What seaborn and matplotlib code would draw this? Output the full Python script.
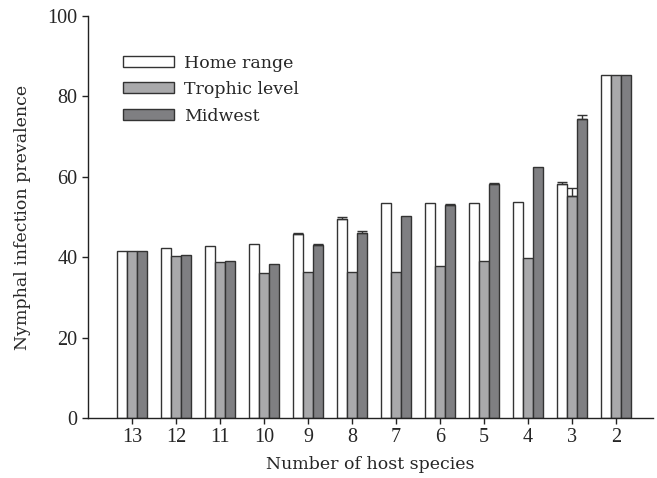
import matplotlib
matplotlib.use("Agg")
from matplotlib import pyplot as plt
import numpy as np
import pandas as pd
import seaborn as sns

# values
hosts = ["13", "12", "11", "10", "9", "8", "7", "6", "5", "4", "3", "2"]
home_range = [41.5, 42.2, 42.8, 43.3, 45.7, 49.5, 53.5, 53.5, 53.6, 53.8, 58.2, 85.3]
trophic_level = [41.5, 40.3, 38.7, 36.0, 36.2, 36.3, 36.4, 37.7, 39.1, 39.9, 55.3, 85.3]
midwest = [41.5, 40.6, 39.1, 38.4, 43.0, 46.0, 50.2, 53.0, 58.1, 62.4, 74.3, 85.3]
home_err = [0, 0, 0, 0, 0.4, 0.4, 0, 0, 0, 0, 0.4, 0]
trophic_err = [0, 0, 0, 0, 0, 0, 0, 0, 0, 0, 1.9, 0]
midwest_err = [0, 0, 0, 0, 0.4, 0.4, 0, 0.3, 0.3, 0, 1.0, 0]

series = ["Home range", "Trophic level", "Midwest"]
colors = ["#ffffff", "#a9a9ab", "#7f7f82"]

df = pd.DataFrame({
    "hosts": hosts * 3,
    "prev": home_range + trophic_level + midwest,
    "err": home_err + trophic_err + midwest_err,
    "model": [s for s in series for _ in hosts],
})

sns.set_style("ticks")
plt.rcParams["font.family"] = ["Liberation Serif", "DejaVu Serif"]
label_font = {"family": "DejaVu Serif", "size": 12.5}

fig = plt.figure(figsize=(6.57, 4.78), dpi=100)
ax = fig.add_axes([0.134, 0.1255, 0.86, 0.841])

sns.barplot(data=df, x="hosts", y="prev", hue="model", order=hosts,
            hue_order=series, palette=colors, width=0.68, errorbar=None,
            edgecolor="#333333", linewidth=1.0, ax=ax)

# upper-only error bars placed on the drawn bars
bars = ax.patches[:len(df)]
for bar, e in zip(bars, df["err"]):
    if e > 0:
        xc = bar.get_x() + bar.get_width() / 2
        ax.errorbar(xc, bar.get_height(), yerr=[[0], [e]], fmt="none",
                    ecolor="#333333", elinewidth=1, capsize=3.5, capthick=1)

ax.set_xlim(-1, 11.84)
ax.set_ylim(0, 100)
ax.set_yticks([0, 20, 40, 60, 80, 100])
ax.set_xlabel("Number of host species", fontdict=label_font, labelpad=6)
ax.set_ylabel("Nymphal infection prevalence", fontdict=label_font, labelpad=12)
ax.tick_params(labelsize=14.5, length=4, width=1, color="#222222")
for sp in ["left", "bottom"]:
    ax.spines[sp].set_color("#222222")
    ax.spines[sp].set_linewidth(1)
sns.despine(ax=ax)

leg = ax.legend(loc="upper left", bbox_to_anchor=(0.035, 0.943), frameon=False,
                prop={"family": "DejaVu Serif", "size": 12.5},
                handlelength=2.9, handleheight=0.6,
                labelspacing=0.55, handletextpad=0.6)

fig.savefig("out.png", dpi=100)
